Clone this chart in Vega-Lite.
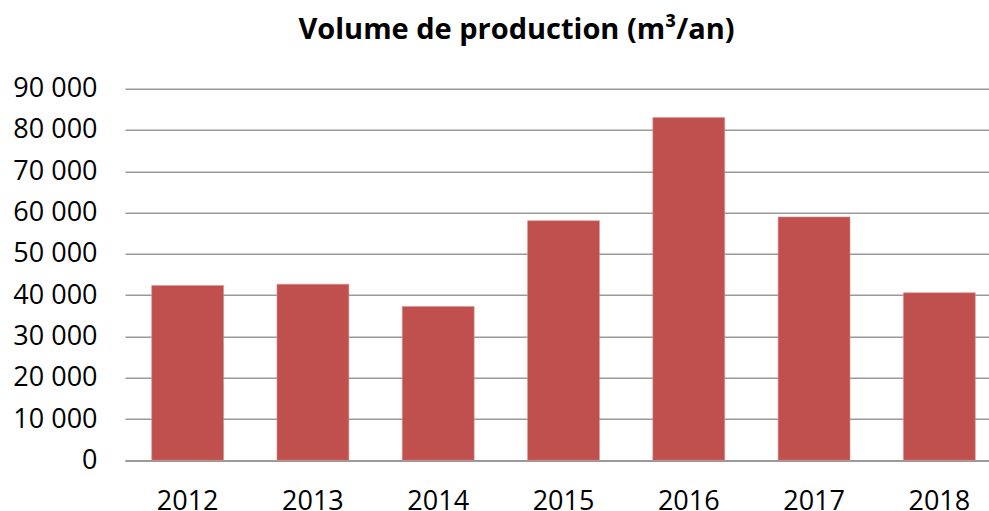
{
  "$schema": "https://vega.github.io/schema/vega-lite/v6.json",
  "autosize": "none",
  "width": 877,
  "height": 371.6,
  "padding": {"left": 125, "top": 88.7, "right": 0, "bottom": 51},
  "background": "white",
  "config": {
    "locale": {"number": {"decimal": ",", "thousands": " ", "grouping": [3], "currency": ["", " €"]}},
    "view": {"stroke": null},
    "font": "Open Sans"
  },
  "title": {
    "text": "Volume de production (m³/an)",
    "font": "Open Sans",
    "fontSize": 29,
    "fontWeight": "bold",
    "color": "#000000",
    "anchor": "middle",
    "frame": "group",
    "dx": -47,
    "offset": 30
  },
  "data": {
    "values": [
      {"annee": "2012", "volume": 42340},
      {"annee": "2013", "volume": 42660},
      {"annee": "2014", "volume": 37270},
      {"annee": "2015", "volume": 58040},
      {"annee": "2016", "volume": 83000},
      {"annee": "2017", "volume": 58940},
      {"annee": "2018", "volume": 40580}
    ]
  },
  "mark": {"type": "bar", "color": "#C0504D", "stroke": "#D99694", "strokeWidth": 0.6},
  "encoding": {
    "x": {
      "field": "annee",
      "type": "ordinal",
      "scale": {"paddingInner": 0.426, "paddingOuter": 0.213},
      "axis": {
        "title": null,
        "labelAngle": 0,
        "labelFontSize": 27,
        "labelColor": "#000000",
        "labelPadding": 28,
        "ticks": false,
        "domainColor": "#9a9a9a",
        "domainWidth": 1.5
      }
    },
    "y": {
      "field": "volume",
      "type": "quantitative",
      "scale": {"domain": [0, 90000], "nice": false},
      "axis": {
        "title": null,
        "values": [0, 10000, 20000, 30000, 40000, 50000, 60000, 70000, 80000, 90000],
        "format": ",d",
        "labelFontSize": 27,
        "labelColor": "#000000",
        "labelPadding": 28,
        "ticks": false,
        "domain": false,
        "grid": true,
        "gridColor": "#9a9a9a",
        "gridWidth": 1.5
      }
    }
  }
}
